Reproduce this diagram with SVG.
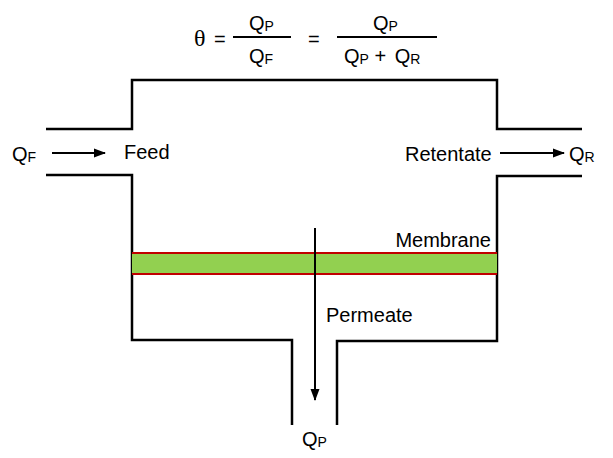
<svg xmlns="http://www.w3.org/2000/svg" width="613" height="458" viewBox="0 0 613 458">
<style>
.w{fill:none;stroke:#000;stroke-width:2.5}
.t{font-family:"Liberation Sans",Arial,sans-serif;font-size:20px;fill:#000}
.s{font-size:14px}
.a{stroke:#000;stroke-width:2;fill:none}
</style>
<defs>
<marker id="ah" markerWidth="12" markerHeight="10" refX="11" refY="5" orient="auto" markerUnits="userSpaceOnUse">
<path d="M0,0.5 L12,5 L0,9.5 Z" fill="#000"/>
</marker>
</defs>
<rect width="613" height="458" fill="#fff"/>
<g id="formula">
<text x="194" y="46" style="font-family:'Liberation Serif','Times New Roman',serif;font-size:24px">θ</text>
<text class="t" x="214" y="46">=</text>
<line x1="233" y1="37" x2="291" y2="37" stroke="#000" stroke-width="2"/>
<text class="t" x="249" y="30">Q<tspan class="s" dy="1">P</tspan></text>
<text class="t" x="249" y="63">Q<tspan class="s" dy="1">F</tspan></text>
<text class="t" x="308" y="46">=</text>
<line x1="337" y1="37" x2="437" y2="37" stroke="#000" stroke-width="2"/>
<text class="t" x="373" y="30">Q<tspan class="s" dy="1">P</tspan></text>
<text class="t" x="344" y="63">Q<tspan class="s" dy="1">P</tspan><tspan dy="-1"> + </tspan><tspan dx="3">Q</tspan><tspan class="s" dy="1">R</tspan></text>
</g>
<g id="vessel">
<path class="w" d="M46,129 H132 V80 H497 V129 H582"/>
<path class="w" d="M46,175 H132 V340 H292 V425"/>
<path class="w" d="M582,176 H497 V341 H337 V425"/>
</g>
<g id="membrane">
<rect x="132" y="253" width="365" height="21" fill="#92d050"/>
<line x1="132" y1="253" x2="497" y2="253" stroke="#c00000" stroke-width="2"/>
<line x1="132" y1="274" x2="497" y2="274" stroke="#c00000" stroke-width="2"/>
<text class="t" x="491" y="247" text-anchor="end">Membrane</text>
</g>
<g id="connectors">
<line class="a" x1="52" y1="153" x2="105" y2="153" marker-end="url(#ah)"/>
<line class="a" x1="500" y1="153" x2="564" y2="153" marker-end="url(#ah)"/>
<line class="a" x1="315" y1="228" x2="315" y2="400" marker-end="url(#ah)"/>
</g>
<g id="labels">
<text class="t" x="12" y="161">Q<tspan class="s" dy="1">F</tspan></text>
<text class="t" x="124" y="159">Feed</text>
<text class="t" x="405" y="161">Retentate</text>
<text class="t" x="569" y="161">Q<tspan class="s" dy="1">R</tspan></text>
<text class="t" x="326" y="322">Permeate</text>
<text class="t" x="302" y="446">Q<tspan class="s" dy="1">P</tspan></text>
</g>
</svg>
